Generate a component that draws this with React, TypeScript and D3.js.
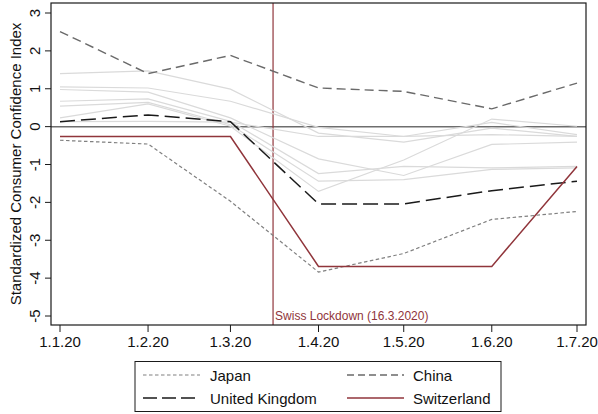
import React from "react";
import * as d3 from "d3";

const dateLabels = ["1.1.20", "1.2.20", "1.3.20", "1.4.20", "1.5.20", "1.6.20", "1.7.20"];
const dates = [
  new Date(2020, 0, 1), new Date(2020, 1, 1), new Date(2020, 2, 1), new Date(2020, 3, 1),
  new Date(2020, 4, 1), new Date(2020, 5, 1), new Date(2020, 6, 1),
];
const yTicks = [3, 2, 1, 0, -1, -2, -3, -4, -5];

const japan = [-0.36, -0.46, -1.97, -3.84, -3.35, -2.45, -2.24];
const china = [2.51, 1.40, 1.88, 1.02, 0.93, 0.47, 1.15];
const uk = [0.13, 0.31, 0.13, -2.04, -2.04, -1.69, -1.44];
const switzerland = [-0.26, -0.26, -0.26, -3.69, -3.69, -3.69, -1.05];

const gray1 = [1.40, 1.47, 0.99, -0.17, -0.41, -0.04, -0.26];
const gray2 = [1.05, 1.02, 0.67, -0.02, -0.26, 0.11, -0.21];
const gray3 = [0.98, 0.91, 0.23, -0.85, -1.29, -0.47, -0.41];
const gray4 = [0.67, 0.73, 0.14, -1.24, -1.05, -1.09, -1.05];
const gray5 = [0.54, 0.64, 0.05, -1.44, -1.40, -1.13, -1.09];
const gray6 = [0.23, 0.60, 0.01, -1.71, -0.88, 0.20, 0.01];
const gray7 = [0.13, 0.14, 0.12, -0.26, -0.26, -0.21, -0.26];
const grayLines = [gray1, gray2, gray3, gray4, gray5, gray6, gray7];

const lockdownDate = new Date(2020, 2, 16);
const lockdownLabel = "Swiss Lockdown (16.3.2020)";
const yTitle = "Standardized Consumer Confidence Index";

const FONT = "'Liberation Sans', Arial, Helvetica, sans-serif";
const RED = "#90353b";

export default function App() {
  const left = 51, right = 586, top = 3, bottom = 325;
  const x = d3.scaleTime().domain([dates[0], dates[6]]).range([60, 577]);
  const y = d3.scaleLinear().domain([-5, 3]).range([316, 13]);
  const line = d3.line<number>().x((_, i) => x(dates[i])).y((v) => y(v));

  const legendItems = [
    { label: "Japan", color: "#808080", dash: "3.5,2.5", w: 1.2, col: 0, row: 0 },
    { label: "China", color: "#6a6a6a", dash: "7,4", w: 1.4, col: 1, row: 0 },
    { label: "United Kingdom", color: "#1a1a1a", dash: "14,5", w: 1.5, col: 0, row: 1 },
    { label: "Switzerland", color: RED, dash: "none", w: 1.5, col: 1, row: 1 },
  ];

  return (
    <svg width={598} height={414} style={{ position: "absolute", left: 0, top: 0, background: "#fff" }} fontFamily={FONT}>
      <rect x={0} y={0} width={598} height={414} fill="#fff" />
      {/* zero line */}
      <line x1={left} x2={right} y1={y(0)} y2={y(0)} stroke="#6e6e6e" strokeWidth={1.5} />
      {/* lockdown line */}
      <line x1={x(lockdownDate)} x2={x(lockdownDate)} y1={top} y2={bottom} stroke={RED} strokeWidth={1.2} />
      <text x={x(lockdownDate) + 2} y={320} fontSize={12} fill={RED}>{lockdownLabel}</text>
      {/* gray lines */}
      {grayLines.map((g, i) => (
        <path key={i} d={line(g) || ""} fill="none" stroke="#dadada" strokeWidth={1.2} />
      ))}
      <path d={line(japan) || ""} fill="none" stroke="#808080" strokeWidth={1.2} strokeDasharray="3.5,2.5" />
      <path d={line(china) || ""} fill="none" stroke="#6a6a6a" strokeWidth={1.4} strokeDasharray="9,5" />
      <path d={line(uk) || ""} fill="none" stroke="#1a1a1a" strokeWidth={1.5} strokeDasharray="15,6" />
      <path d={line(switzerland) || ""} fill="none" stroke={RED} strokeWidth={1.5} />
      {/* frame */}
      <rect x={left} y={top} width={right - left} height={bottom - top} fill="none" stroke="#1a1a1a" strokeWidth={1.2} />
      {/* y axis */}
      {yTicks.map((t) => (
        <g key={t}>
          <line x1={left - 6} x2={left} y1={y(t)} y2={y(t)} stroke="#1a1a1a" strokeWidth={1} />
          <text transform={`translate(40,${y(t)}) rotate(-90)`} textAnchor="middle" fontSize={15} fill="#111">{t}</text>
        </g>
      ))}
      <text transform={`translate(21,164) rotate(-90)`} textAnchor="middle" fontSize={15} fill="#111">{yTitle}</text>
      {/* x axis */}
      {dates.map((d, i) => (
        <g key={i}>
          <line x1={x(d)} x2={x(d)} y1={bottom} y2={bottom + 7} stroke="#1a1a1a" strokeWidth={1} />
          <text x={x(d)} y={347} textAnchor="middle" fontSize={15} fill="#111">{dateLabels[i]}</text>
        </g>
      ))}
      {/* legend */}
      <rect x={135} y={361.5} width={366} height={50} fill="#fff" stroke="#1a1a1a" strokeWidth={1} />
      {legendItems.map((it) => {
        const lx = it.col === 0 ? 143 : 347;
        const ly = it.row === 0 ? 375 : 398;
        return (
          <g key={it.label}>
            <line x1={lx} x2={lx + 57} y1={ly} y2={ly} stroke={it.color} strokeWidth={it.w} strokeDasharray={it.dash} />
            <text x={lx + (it.col === 0 ? 67 : 66)} y={ly + 5.5} fontSize={15} fill="#111">{it.label}</text>
          </g>
        );
      })}
    </svg>
  );
}
